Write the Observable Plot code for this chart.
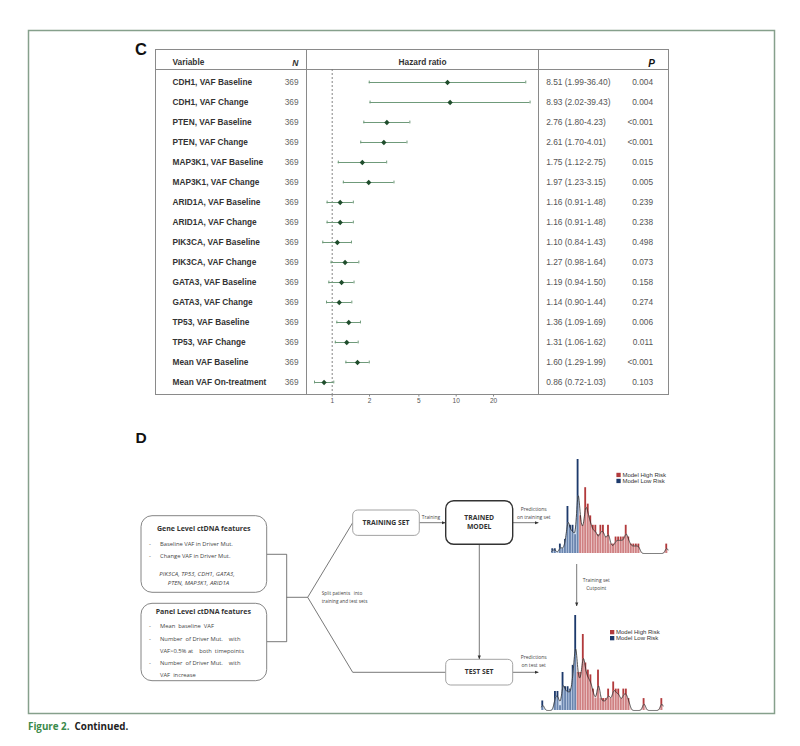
<!DOCTYPE html>
<html><head><meta charset="utf-8">
<script src="https://cdn.jsdelivr.net/npm/d3@7"></script>
<script src="https://cdn.jsdelivr.net/npm/@observablehq/plot@0.6"></script>
<style>
body{margin:0;background:#fff;}
#page{position:relative;width:800px;height:746px;overflow:hidden;background:#fff;}
.abs{position:absolute;}
</style></head><body><div id="page"></div>
<script>
// ---------- Panel C data ----------
const variables = ["CDH1, VAF Baseline","CDH1, VAF Change","PTEN, VAF Baseline","PTEN, VAF Change",
  "MAP3K1, VAF Baseline","MAP3K1, VAF Change","ARID1A, VAF Baseline","ARID1A, VAF Change",
  "PIK3CA, VAF Baseline","PIK3CA, VAF Change","GATA3, VAF Baseline","GATA3, VAF Change",
  "TP53, VAF Baseline","TP53, VAF Change","Mean VAF Baseline","Mean VAF On-treatment"];
const nValues = [369,369,369,369,369,369,369,369,369,369,369,369,369,369,369,369];
const hrValues = [8.51,8.93,2.76,2.61,1.75,1.97,1.16,1.16,1.10,1.27,1.19,1.14,1.36,1.31,1.60,0.86];
const lowerCI = [1.99,2.02,1.80,1.70,1.12,1.23,0.91,0.91,0.84,0.98,0.94,0.90,1.09,1.06,1.29,0.72];
const upperCI = [36.40,39.43,4.23,4.01,2.75,3.15,1.48,1.48,1.43,1.64,1.50,1.44,1.69,1.62,1.99,1.03];
const pValues = ["0.004","0.004","<0.001","<0.001","0.015","0.005","0.239","0.238","0.498","0.073","0.158","0.274","0.006","0.011","<0.001","0.103"];
const xTicks = [1,2,5,10,20];

// ---------- Panel D histogram data (bar heights) ----------
const trainCounts = [1,1,0,2,1,3,10,6,6,4,20,8,6,14,10.5,8,6,6,4,6,6,3.5,6,2,2,3.5,3.5,3.5,3.5,6,3.5,2,2,2,2,0,0,0,0,0,0,0,0,0,0,2];
const trainLowRiskBins = 11; // first 11 bins are low risk
const testCounts = [2,0,0,0,0,4,4,1,8,5,5,4.5,9.5,20,8,8,16,10,8.5,7.5,4.5,2.5,8.5,2.5,2.5,2.5,4.5,2.5,6,4.5,4.5,2.5,4.5,4.5,2.5,0,0,0,0,0,2.5,0,0,0,0,0,0,2.5];
const testLowRiskBins = 14;
const riskLabels = ["Model High Risk","Model Low Risk"];
const riskColors = ["#b23a3c","#1d3a6c"];

const page = document.getElementById("page");

// ---------- Diagram / frame (decorations) ----------
const svg = d3.select(page).append("svg").attr("width",800).attr("height",746)
  .style("position","absolute").style("left","0px").style("top","0px");
const defs = svg.append("defs");
defs.append("marker").attr("id","ah").attr("viewBox","0 0 10 10").attr("refX",9).attr("refY",5)
  .attr("markerWidth",5).attr("markerHeight",5).attr("orient","auto")
  .append("path").attr("d","M0,1L10,5L0,9z").attr("fill","#333");

svg.append("rect").attr("x",28.5).attr("y",30.5).attr("width",746).attr("height",683)
  .attr("fill","none").attr("stroke","#86a08c").attr("stroke-width",1.5);

function T(x,y,s,o={}){
  const t = svg.append("text").attr("x",x).attr("y",y).text(s)
    .attr("font-family", o.family || "'Open Sans', sans-serif")
    .attr("font-size", o.size || 5.8)
    .attr("font-weight", o.weight || "normal")
    .attr("font-style", o.style || "normal")
    .attr("fill", o.fill || "#444")
    .attr("text-anchor", o.anchor || "start")
    .attr("dominant-baseline", o.base || "middle")
    .style("white-space","pre");
  return t;
}
function R(x,y,w,h,rx,stroke,sw){
  svg.append("rect").attr("x",x).attr("y",y).attr("width",w).attr("height",h).attr("rx",rx)
    .attr("fill","#fff").attr("stroke",stroke).attr("stroke-width",sw);
}
function P(d,arrow){
  const p = svg.append("path").attr("d",d).attr("fill","none").attr("stroke","#555").attr("stroke-width",0.8);
  if(arrow) p.attr("marker-end","url(#ah)");
}

// panel labels
T(135,55,"C",{family:"'Liberation Sans', Arial, sans-serif",size:16.5,weight:"bold",fill:"#111",base:"auto"});
T(135.5,442.7,"D",{family:"'Liberation Sans', Arial, sans-serif",size:15.5,weight:"bold",fill:"#111",base:"auto"});

// connectors
P("M266.7,554.3H286.7V641.7H266.7");
P("M286.7,597.3H307.7");
P("M307.7,597.3L352.7,522.7");
P("M307.7,597.3L352.7,672.3H445.7");
P("M419.3,522.7H445.2",true);
P("M512.7,522.7H538.3",true);
P("M479.3,544.3V659",true);
P("M512.7,672.3H538.3",true);
P("M576.7,564V606",true);

// boxes
R(141,515.7,125.7,76.6,11,"#777",0.9);
R(141,603.3,125.7,77.4,11,"#777",0.9);
R(352.7,510,66.6,25.4,5,"#999",0.9);
R(445.7,500.7,67,43.6,8,"#333",1.4);
R(445.7,659.3,67,25.7,5,"#999",0.9);

// gene level box
T(203.8,528.7,"Gene Level ctDNA features",{size:7,weight:"bold",fill:"#333",anchor:"middle"});
T(149,544,"-");T(160,544,"Baseline VAF in Driver Mut.");
T(149,556,"-");T(160,556,"Change VAF in Driver Mut.");
T(197,574,"PIK3CA, TP53, CDH1, GATA3,",{style:"italic",anchor:"middle",size:6.1});
T(198.5,583.3,"PTEN, MAP3K1, ARID1A",{style:"italic",anchor:"middle",size:6.1});
// panel level box
T(203.3,612,"Panel Level ctDNA features",{size:7,weight:"bold",fill:"#333",anchor:"middle"});
T(149,626.7,"-");T(160,626.7,"Mean  baseline  VAF");
T(149,639,"-");T(160,639,"Number  of Driver Mut.    with");
T(160,651,"VAF>0.5% at    both  timepoints");
T(149,663,"-");T(160,663,"Number  of Driver Mut.    with");
T(160,675.3,"VAF  increase");

T(321.7,593.3,"Split patients   into",{size:4.7});
T(321.7,602,"training and test sets",{size:4.7});
T(421.7,517.3,"Training",{size:4.9});

T(386,522.9,"TRAINING SET",{size:6.8,weight:"bold",fill:"#333",anchor:"middle"});
T(479.2,518.3,"TRAINED",{size:6.8,weight:"bold",fill:"#333",anchor:"middle"});
T(479.2,527.3,"MODEL",{size:6.8,weight:"bold",fill:"#333",anchor:"middle"});
T(479.2,672.5,"TEST SET",{size:6.8,weight:"bold",fill:"#333",anchor:"middle"});

T(533.7,509.3,"Predictions",{size:5,anchor:"middle"});
T(533.7,517.3,"on training set",{size:5,anchor:"middle"});
T(533.7,657.7,"Predictions",{size:5,anchor:"middle"});
T(533.7,666,"on test set",{size:5,anchor:"middle"});
T(596.3,581,"Training set",{size:5,anchor:"middle"});
T(596.3,589,"Cutpoint",{size:5,anchor:"middle"});

// legends
function legend(x,y){
  riskLabels.forEach((lab,i)=>{
    svg.append("rect").attr("x",x).attr("y",y+i*6-2.2).attr("width",4.3).attr("height",4.3).attr("fill",riskColors[i]);
    T(x+6,y+i*6,lab,{family:"'Liberation Sans', Arial, sans-serif",size:6,fill:"#333"});
  });
}
legend(616.4,475);
legend(610,632.2);

// ---------- Panel C forest plot ----------
const rows = variables.map((v,i)=>({variable:v,n:nValues[i],hr:hrValues[i],lo:lowerCI[i],hi:upperCI[i],
  label:`${hrValues[i].toFixed(2)} (${lowerCI[i].toFixed(2)}-${upperCI[i].toFixed(2)})`,p:pValues[i]}));

const lineC = "#8a8a8a";
const axisMarks = Plot.axisX ? [Plot.axisX({ticks:xTicks,tickFormat:d=>String(d),tickSize:2.5,tickPadding:1.5,fontSize:6.5,stroke:"#888",fill:"#555"})] : [];
const forest = Plot.plot({
  width:513, height:361, marginLeft:151, marginRight:130, marginTop:20, marginBottom:16,
  style:{fontFamily:"'Liberation Sans', Arial, sans-serif",fontSize:"8.3px",color:"#333",background:"transparent",overflow:"visible"},
  x:{type:"log",domain:[0.6205,46.1],...(Plot.axisX?{axis:null}:{ticks:xTicks,tickFormat:d=>String(d),tickSize:2.5})},
  y:{type:"band",domain:variables,padding:0,axis:null},
  marks:[
    Plot.frame({stroke:lineC,insetLeft:-151,insetRight:-130,insetTop:-20}),
    Plot.frame({stroke:lineC,insetLeft:-151,insetRight:-130,insetTop:-20,insetBottom:325}),
    Plot.frame({stroke:lineC,insetTop:-20}),
    Plot.ruleX([1],{stroke:"#777",strokeDasharray:"2,2",strokeWidth:0.9}),
    Plot.ruleY(rows,{y:"variable",x1:"lo",x2:"hi",stroke:"#6f9a7a",strokeWidth:1}),
    Plot.tickX(rows,{x:"lo",y:"variable",stroke:"#6f9a7a",insetTop:8.6,insetBottom:8.6}),
    Plot.tickX(rows,{x:"hi",y:"variable",stroke:"#6f9a7a",insetTop:8.6,insetBottom:8.6}),
    Plot.dot(rows,{x:"hr",y:"variable",symbol:"diamond2",r:2.4,fill:"#1f4d2c"}),
    Plot.text(rows,{y:"variable",text:"variable",frameAnchor:"left",dx:-134,textAnchor:"start",fontWeight:"bold",fill:"#333",fontSize:8.3}),
    Plot.text(rows,{y:"variable",text:d=>String(d.n),frameAnchor:"left",dx:-8,textAnchor:"end",fill:"#666",fontSize:8.3}),
    Plot.text(rows,{y:"variable",text:"label",frameAnchor:"right",dx:7.7,textAnchor:"start",fill:"#555",fontSize:8.4}),
    Plot.text(rows,{y:"variable",text:"p",frameAnchor:"right",dx:114.5,textAnchor:"end",fill:"#555",fontSize:8.3}),
    Plot.text(["Variable"],{text:d=>d,frameAnchor:"top-left",dx:-134,dy:-10,textAnchor:"start",fontWeight:"bold",fill:"#333",fontSize:8.3}),
    Plot.text(["N"],{text:d=>d,frameAnchor:"top-left",dx:-8,dy:-10,textAnchor:"end",fontWeight:"bold",fontStyle:"italic",fill:"#333",fontSize:8.5}),
    Plot.text(["Hazard ratio"],{text:d=>d,frameAnchor:"top",dy:-10,fontWeight:"bold",fill:"#333",fontSize:8.3}),
    Plot.text(["P"],{text:d=>d,frameAnchor:"top-right",dx:116.5,dy:-10,textAnchor:"end",fontWeight:"bold",fontStyle:"italic",fill:"#111",fontSize:10}),
    ...axisMarks
  ]
});
forest.style.position="absolute"; forest.style.left="155px"; forest.style.top="49px";
page.appendChild(forest);

// ---------- Histograms ----------
function histogram(counts, lowBins, left, top, width, height){
  const bins = counts.map((c,k)=>({k,c,risk:k<lowBins?riskLabels[1]:riskLabels[0]}));
  const sigma = 0.6, scale = 0.8, n = counts.length;
  const dens = d3.range(-0.5, n-0.5+0.001, 0.1).map(x=>({x, y: scale*d3.sum(counts,(c,j)=>c*Math.exp(-((x-j)**2)/(2*sigma*sigma))/(sigma*Math.sqrt(2*Math.PI)))}));
  const cut = lowBins-0.5;
  const densLow = dens.filter(d=>d.x<=cut+0.001), densHigh = dens.filter(d=>d.x>=cut-0.001);
  const pl = Plot.plot({
    width, height, marginLeft:0, marginRight:0, marginTop:3, marginBottom:0,
    style:{background:"transparent",overflow:"visible"},
    x:{domain:[-0.5,n-0.5],axis:null},
    y:{domain:[0,20],axis:null},
    color:{domain:riskLabels,range:riskColors},
    marks:[
      Plot.rectY(bins,{x1:d=>d.k-0.5,x2:d=>d.k+0.5,y:"c",fill:"risk",insetLeft:0.35,insetRight:0.35}),
      Plot.areaY(densLow,{x:"x",y:"y",fill:"#a9c3e6",fillOpacity:0.55}),
      Plot.areaY(densHigh,{x:"x",y:"y",fill:"#e8b9bb",fillOpacity:0.55}),
      Plot.line(dens,{x:"x",y:"y",stroke:"#2b2b2b",strokeWidth:0.8,curve:"basis"})
    ]
  });
  pl.style.position="absolute"; pl.style.left=left+"px"; pl.style.top=top+"px";
  page.appendChild(pl);
}
histogram(trainCounts, trainLowRiskBins, 551.4, 455.7, 116.5, 97);
histogram(testCounts, testLowRiskBins, 540.7, 612, 121.6, 98);

// ---------- caption ----------
const cap = document.createElement("div");
cap.className="abs";
cap.style.cssText="left:28px;top:720px;font-family:'Open Sans',sans-serif;font-size:9.8px;font-weight:bold;white-space:pre;";
cap.innerHTML='<span style="color:#3b8a4a">Figure 2.</span><span style="color:#222">  Continued.</span>';
page.appendChild(cap);
</script></body></html>
